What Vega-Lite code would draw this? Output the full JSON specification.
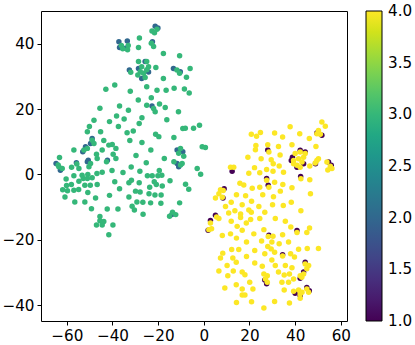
{
"$schema":"https://vega.github.io/schema/vega-lite/v6.json",
"autosize":{"type":"none"},
"padding":{"left":41,"top":11,"right":68,"bottom":24},
"width":306,"height":310,
"config":{"view":{"stroke":"#000","strokeWidth":1},
"axis":{"labelFont":"DejaVu Sans","labelFontSize":15.2,"labelColor":"#000","tickColor":"#000","tickSize":4,"tickWidth":1,"domain":false,"grid":false,"labelPadding":3,"title":null},
"legend":{"labelFont":"DejaVu Sans","labelFontSize":15.2,"labelColor":"#000"}},
"datasets":{"pts":[
{"x":-21.3,"y":45.4,"c":2},{"x":-20.1,"y":44.9,"c":2},{"x":-37.2,"y":40.7,"c":2},{"x":-33.5,"y":40.9,"c":2},{"x":-36.9,"y":38.9,"c":2},{"x":-34.3,"y":38.7,"c":2},{"x":-22.5,"y":40.7,"c":2},{"x":-28.6,"y":32.5,"c":2},{"x":-25.7,"y":34.6,"c":2},{"x":-27.2,"y":29.4,"c":2},{"x":-24.2,"y":31.4,"c":2},{"x":-32.6,"y":32,"c":2},{"x":-13.3,"y":32.5,"c":2},{"x":-10.3,"y":31.5,"c":2},{"x":-22.7,"y":21,"c":2},{"x":-48.9,"y":11,"c":2},{"x":-49.6,"y":9.5,"c":2},{"x":-51.8,"y":8.5,"c":2},{"x":-53,"y":7,"c":2},{"x":-11.7,"y":7.5,"c":2},{"x":-9.2,"y":7,"c":2},{"x":-42.2,"y":4.4,"c":2},{"x":-55.8,"y":3.6,"c":2},{"x":-51,"y":3.9,"c":2},{"x":-50.6,"y":4.4,"c":2},{"x":-64.7,"y":3.4,"c":2},{"x":-62.8,"y":1.3,"c":2},{"x":-11.7,"y":3.4,"c":2},{"x":-11,"y":2.4,"c":2},{"x":-14,"y":-12.3,"c":2},
{"x":12.4,"y":1.0,"c":1},{"x":28,"y":7.5,"c":1},{"x":27.5,"y":-1.2,"c":1},{"x":28.2,"y":-3.3,"c":1},{"x":8.9,"y":-4.4,"c":1},{"x":8.4,"y":-7.2,"c":1},{"x":49.5,"y":12.7,"c":1},{"x":51.7,"y":12,"c":1},{"x":38.8,"y":5.3,"c":1},{"x":42.2,"y":7.4,"c":1},{"x":44.4,"y":6.9,"c":1},{"x":43.7,"y":3.3,"c":1},{"x":38.3,"y":4.3,"c":1},{"x":40.8,"y":2.2,"c":1},{"x":48.9,"y":3.3,"c":1},{"x":54.6,"y":3.8,"c":1},{"x":55.8,"y":2.8,"c":1},{"x":42.4,"y":-0.6,"c":1},{"x":2.9,"y":-14.1,"c":1},{"x":1.9,"y":-17.1,"c":1},{"x":5.1,"y":-12.5,"c":1},{"x":26.7,"y":-32.3,"c":1},{"x":27.5,"y":-33.5,"c":1},{"x":40.8,"y":-17.2,"c":1},{"x":34.5,"y":-24.6,"c":1},{"x":44.4,"y":-26.9,"c":1},{"x":43.7,"y":-29.9,"c":1},{"x":42.2,"y":-31.8,"c":1},{"x":40,"y":-36.4,"c":1},{"x":42.2,"y":-37.1,"c":1},{"x":45.1,"y":-34.6,"c":1},{"x":46.2,"y":-35.6,"c":1},{"x":28.5,"y":-18.6,"c":1},
{"x":-22.7,"y":44,"c":3},{"x":-20.5,"y":44.5,"c":3},{"x":-21.6,"y":43.4,"c":3},{"x":-36.1,"y":39.5,"c":3},{"x":-33.1,"y":39.5,"c":3},{"x":-35.5,"y":38.5,"c":3},{"x":-33.4,"y":38.2,"c":3},{"x":-23,"y":40.2,"c":3},{"x":-22,"y":39.2,"c":3},{"x":-28.2,"y":41.8,"c":3},{"x":-28.6,"y":38.9,"c":3},
{"x":-27.2,"y":33,"c":3},{"x":-28.9,"y":30.5,"c":3},{"x":-26.4,"y":31,"c":3},{"x":-25,"y":32.1,"c":3},{"x":-27.8,"y":31.5,"c":3},{"x":-25.7,"y":29.7,"c":3},{"x":-24.2,"y":33,"c":3},{"x":-28.6,"y":34.6,"c":3},{"x":-25,"y":34.6,"c":3},{"x":-32,"y":31.3,"c":3},
{"x":-17.7,"y":37.1,"c":3},{"x":-10.6,"y":36.4,"c":3},{"x":-21,"y":32.8,"c":3},{"x":-11.8,"y":32,"c":3},{"x":-10.6,"y":31,"c":3},{"x":-6,"y":32.5,"c":3},{"x":-7.6,"y":29.8,"c":3},{"x":-17.7,"y":29.4,"c":3},
{"x":-39,"y":27.4,"c":3},{"x":-42.9,"y":26.1,"c":3},{"x":-25,"y":26.9,"c":3},{"x":-20.5,"y":25.8,"c":3},{"x":-16.5,"y":25.8,"c":3},{"x":-13,"y":26.4,"c":3},{"x":-8.5,"y":26.2,"c":3},{"x":-6.4,"y":25,"c":3},{"x":-32.2,"y":25.5,"c":3},
{"x":-28.7,"y":22.8,"c":3},{"x":-23,"y":23.5,"c":3},{"x":-25,"y":21.2,"c":3},{"x":-22,"y":20.2,"c":3},{"x":-19.4,"y":21.6,"c":3},{"x":-21.3,"y":19.2,"c":3},{"x":-16.9,"y":20.5,"c":3},{"x":-11.1,"y":19.2,"c":3},{"x":-33,"y":19.7,"c":3},{"x":-45.5,"y":20.3,"c":3},{"x":-36.9,"y":21,"c":3},
{"x":-27.1,"y":17.4,"c":3},{"x":-28.3,"y":15.6,"c":3},{"x":-16.2,"y":16.8,"c":3},{"x":-9.2,"y":14.1,"c":3},{"x":-8.1,"y":14.2,"c":3},{"x":-4.5,"y":14.2,"c":3},{"x":-1.9,"y":15.1,"c":3},
{"x":-48.1,"y":16.6,"c":3},{"x":-41.3,"y":16.2,"c":3},{"x":-38.2,"y":17.9,"c":3},{"x":-34.9,"y":17,"c":3},{"x":-50.1,"y":14.7,"c":3},{"x":-37.4,"y":14.7,"c":3},
{"x":-51,"y":13.1,"c":3},{"x":-45.2,"y":13.1,"c":3},{"x":-33.6,"y":12.8,"c":3},{"x":-30.9,"y":13.3,"c":3},{"x":-21.1,"y":12.3,"c":3},{"x":-19.7,"y":11.6,"c":3},{"x":-13.1,"y":11.3,"c":3},
{"x":-48.9,"y":10.5,"c":3},{"x":-48.1,"y":9.5,"c":3},{"x":-43.8,"y":10.4,"c":3},{"x":-41.6,"y":9,"c":3},{"x":-40.1,"y":9.2,"c":3},{"x":-32.4,"y":10.4,"c":3},{"x":-27.1,"y":9.8,"c":3},
{"x":-52.5,"y":7.5,"c":3},{"x":-51,"y":8,"c":3},{"x":-56.9,"y":7.5,"c":3},{"x":-44.5,"y":7.5,"c":3},{"x":-38.5,"y":8,"c":3},{"x":-23.2,"y":7.5,"c":3},{"x":-11,"y":6.5,"c":3},{"x":-10.2,"y":8,"c":3},{"x":-0.7,"y":8.5,"c":3},{"x":0.7,"y":8.3,"c":3},{"x":-8.8,"y":5.6,"c":3},
{"x":-63.2,"y":5.2,"c":3},{"x":-47,"y":6.2,"c":3},{"x":-46.7,"y":4.9,"c":3},{"x":-39.7,"y":6.2,"c":3},{"x":-38.5,"y":4.9,"c":3},{"x":-29.7,"y":5.8,"c":3},{"x":-17.3,"y":4.9,"c":3},
{"x":-42.6,"y":3.9,"c":3},{"x":-55.6,"y":3.2,"c":3},{"x":-49.6,"y":3.4,"c":3},{"x":-50.3,"y":2.4,"c":3},{"x":-63.5,"y":2.4,"c":3},{"x":-62,"y":1.8,"c":3},{"x":-63.8,"y":2.9,"c":3},
{"x":-13.1,"y":3.9,"c":3},{"x":-10.2,"y":2.9,"c":3},{"x":-9.5,"y":3.4,"c":3},{"x":-25.2,"y":3.6,"c":3},{"x":-2.9,"y":1.8,"c":3},{"x":-1.4,"y":0.1,"c":3},
{"x":-57.9,"y":2.2,"c":3},{"x":-54.7,"y":1.8,"c":3},{"x":-53.3,"y":-0.2,"c":3},{"x":-50.8,"y":0,"c":3},{"x":-46.8,"y":0.3,"c":3},{"x":-35.4,"y":0.6,"c":3},{"x":-28,"y":1,"c":3},{"x":-44.5,"y":0.7,"c":3},{"x":-40.2,"y":1.2,"c":3},{"x":-31.8,"y":2.3,"c":3},{"x":-19.5,"y":1.2,"c":3},
{"x":-22.6,"y":-0.4,"c":3},{"x":-20.1,"y":-0.4,"c":3},{"x":-18.4,"y":-0.2,"c":3},{"x":-24.7,"y":-0.4,"c":3},{"x":-14.8,"y":-1.9,"c":3},
{"x":-60.3,"y":-1.4,"c":3},{"x":-56.9,"y":-0.4,"c":3},{"x":-54.7,"y":-2.1,"c":3},{"x":-52.8,"y":-1.2,"c":3},{"x":-51,"y":-1.2,"c":3},{"x":-48.9,"y":-1,"c":3},
{"x":-39,"y":-2.2,"c":3},{"x":-32.8,"y":-2.5,"c":3},{"x":-31.7,"y":-1.8,"c":3},{"x":-28.3,"y":-2.5,"c":3},{"x":-21.7,"y":-2.2,"c":3},{"x":-18.2,"y":-3.5,"c":3},{"x":-20.8,"y":-3.1,"c":3},{"x":-8,"y":-3,"c":3},{"x":-6.6,"y":-4.5,"c":3},{"x":-23.7,"y":-3.9,"c":3},{"x":-36.9,"y":-4.4,"c":3},
{"x":-61.8,"y":-4.7,"c":3},{"x":-59.7,"y":-5,"c":3},{"x":-58,"y":-3.1,"c":3},{"x":-60.1,"y":-3.4,"c":3},{"x":-56.9,"y":-4.8,"c":3},{"x":-54.8,"y":-4.6,"c":3},{"x":-52.1,"y":-3.3,"c":3},{"x":-49.7,"y":-3.3,"c":3},{"x":-46.7,"y":-3.1,"c":3},{"x":-50.8,"y":-5.5,"c":3},
{"x":-60.8,"y":-6.9,"c":3},{"x":-56.5,"y":-8.4,"c":3},{"x":-52.1,"y":-8.4,"c":3},{"x":-47.4,"y":-7.2,"c":3},{"x":-49.2,"y":-10.5,"c":3},{"x":-41.3,"y":-6.4,"c":3},{"x":-42.3,"y":-10.6,"c":3},{"x":-37.6,"y":-10.6,"c":3},
{"x":-32.8,"y":-6.9,"c":3},{"x":-29.9,"y":-5.1,"c":3},{"x":-27.9,"y":-5.4,"c":3},{"x":-24,"y":-5.9,"c":3},{"x":-21.4,"y":-6.3,"c":3},{"x":-18.7,"y":-6.3,"c":3},
{"x":-29.3,"y":-8.4,"c":3},{"x":-26.7,"y":-8.5,"c":3},{"x":-23.3,"y":-8.7,"c":3},{"x":-18.8,"y":-8.8,"c":3},{"x":-31.4,"y":-9.7,"c":3},{"x":-30.4,"y":-10.9,"c":3},{"x":-26.6,"y":-12.2,"c":3},{"x":-10.6,"y":-8.7,"c":3},
{"x":-15,"y":-12.8,"c":3},{"x":-13.7,"y":-11.6,"c":3},{"x":-12.3,"y":-12.3,"c":3},
{"x":-45.5,"y":-12.9,"c":3},{"x":-43.8,"y":-14.4,"c":3},{"x":-45.5,"y":-14.2,"c":3},{"x":-47,"y":-15.5,"c":3},{"x":-44.5,"y":-15.5,"c":3},{"x":-39.8,"y":-15.5,"c":3},{"x":-41.6,"y":-18.5,"c":3},
{"x":20.8,"y":12.3,"c":4},{"x":23.1,"y":11.7,"c":4},{"x":24.8,"y":12.9,"c":4},{"x":22.8,"y":8.9,"c":4},{"x":22.6,"y":7.6,"c":4},{"x":28,"y":9.1,"c":4},{"x":28.5,"y":6.9,"c":4},{"x":19.3,"y":5.3,"c":4},{"x":25.1,"y":4.8,"c":4},{"x":11.7,"y":2.2,"c":4},{"x":13.1,"y":2.2,"c":4},{"x":19.7,"y":0.4,"c":4},{"x":22.2,"y":2.1,"c":4},{"x":24.5,"y":0.5,"c":4},{"x":27.5,"y":1.5,"c":4},{"x":27.5,"y":-1.8,"c":4},{"x":28.5,"y":-3.9,"c":4},{"x":15.8,"y":-2.7,"c":4},{"x":17.5,"y":-3.2,"c":4},{"x":21.2,"y":-4.2,"c":4},{"x":24.5,"y":-3.9,"c":4},
{"x":7.3,"y":-4.7,"c":4},{"x":8.5,"y":-4.9,"c":4},{"x":6.6,"y":-5.9,"c":4},{"x":8.1,"y":-7,"c":4},{"x":5.1,"y":-7.2,"c":4},
{"x":14.3,"y":-6.2,"c":4},{"x":18.3,"y":-6.5,"c":4},{"x":25.8,"y":-6.2,"c":4},{"x":12,"y":-8.5,"c":4},{"x":20.9,"y":-8.2,"c":4},{"x":9.5,"y":-9.8,"c":4},{"x":16.8,"y":-9.3,"c":4},{"x":24.1,"y":-9.8,"c":4},{"x":13.6,"y":-11.1,"c":4},{"x":19.7,"y":-10.9,"c":4},{"x":20.8,"y":-11.6,"c":4},{"x":26.7,"y":-11.6,"c":4},{"x":10.9,"y":-11.8,"c":4},{"x":16.1,"y":-12.1,"c":4},
{"x":37.8,"y":14.6,"c":4},{"x":31,"y":12.7,"c":4},{"x":34.5,"y":11.5,"c":4},{"x":42,"y":12.5,"c":4},{"x":46.2,"y":11,"c":4},
{"x":51.7,"y":16.1,"c":4},{"x":53.2,"y":14.8,"c":4},{"x":50.2,"y":13.5,"c":4},{"x":51,"y":12.3,"c":4},{"x":49.5,"y":12.5,"c":4},
{"x":38.6,"y":9.1,"c":4},{"x":49.1,"y":8.6,"c":4},{"x":32.7,"y":8.6,"c":4},{"x":33.4,"y":6,"c":4},{"x":29.5,"y":4.5,"c":4},
{"x":40,"y":6.4,"c":4},{"x":42.2,"y":6.9,"c":4},{"x":39.3,"y":4.3,"c":4},{"x":41.5,"y":4.8,"c":4},{"x":43,"y":3.8,"c":4},{"x":40.8,"y":2.8,"c":4},{"x":43.7,"y":5.3,"c":4},{"x":42.2,"y":2.2,"c":4},{"x":39.3,"y":3.3,"c":4},{"x":44.4,"y":6.4,"c":4},
{"x":49.5,"y":4.3,"c":4},{"x":48.8,"y":3.5,"c":4},{"x":50.2,"y":4.8,"c":4},
{"x":53.9,"y":3.8,"c":4},{"x":55.4,"y":2.5,"c":4},{"x":56.1,"y":1.8,"c":4},{"x":54.3,"y":1.4,"c":4},
{"x":46.4,"y":2.6,"c":4},{"x":30.4,"y":3.3,"c":4},{"x":33,"y":2.6,"c":4},{"x":34.9,"y":0.7,"c":4},{"x":30.3,"y":1,"c":4},{"x":42.5,"y":-1.3,"c":4},{"x":46.4,"y":-1.6,"c":4},{"x":31,"y":-2.4,"c":4},{"x":34.6,"y":-3.1,"c":4},{"x":38.6,"y":-4.1,"c":4},{"x":46.7,"y":-5.9,"c":4},{"x":33.5,"y":-5.1,"c":4},{"x":30.5,"y":-6.8,"c":4},{"x":38.3,"y":-8.5,"c":4},{"x":34.8,"y":-9.5,"c":4},{"x":30.1,"y":-9.3,"c":4},{"x":42.5,"y":-11.1,"c":4},
{"x":5.6,"y":-13,"c":4},{"x":2.9,"y":-14.9,"c":4},{"x":2.2,"y":-16.9,"c":4},{"x":3.4,"y":-16.6,"c":4},{"x":6.6,"y":-13.5,"c":4},
{"x":16.1,"y":-13.2,"c":4},{"x":20.5,"y":-13.8,"c":4},{"x":24.5,"y":-13.5,"c":4},{"x":12,"y":-14.3,"c":4},{"x":18.6,"y":-14.9,"c":4},{"x":14.6,"y":-15.9,"c":4},{"x":16.8,"y":-17.1,"c":4},{"x":26.3,"y":-16.9,"c":4},{"x":8.1,"y":-18.7,"c":4},{"x":11.7,"y":-18.2,"c":4},{"x":14.3,"y":-19.5,"c":4},{"x":21.9,"y":-18.2,"c":4},{"x":18.7,"y":-20.7,"c":4},{"x":25.3,"y":-20.4,"c":4},{"x":28.2,"y":-19,"c":4},{"x":12.2,"y":-23,"c":4},{"x":15.3,"y":-23,"c":4},{"x":22.3,"y":-23.3,"c":4},{"x":28,"y":-22.1,"c":4},{"x":8.3,"y":-24.1,"c":4},{"x":26.7,"y":-24.3,"c":4},{"x":7.3,"y":-25.6,"c":4},{"x":12.7,"y":-25.6,"c":4},{"x":18.7,"y":-25.1,"c":4},{"x":14.2,"y":-26.9,"c":4},{"x":10.2,"y":-27.9,"c":4},{"x":22.3,"y":-27.1,"c":4},{"x":25.6,"y":-28.1,"c":4},{"x":6.6,"y":-29.6,"c":4},{"x":12.9,"y":-29.6,"c":4},{"x":16.8,"y":-29.9,"c":4},{"x":18,"y":-30.7,"c":4},{"x":10.5,"y":-31,"c":4},
{"x":26.3,"y":-30.5,"c":4},{"x":27.8,"y":-31,"c":4},{"x":27,"y":-32,"c":4},{"x":27.8,"y":-33,"c":4},
{"x":9.2,"y":-34.8,"c":4},{"x":14.2,"y":-33.8,"c":4},{"x":20.1,"y":-33,"c":4},{"x":16.8,"y":-35.1,"c":4},{"x":21.5,"y":-35.1,"c":4},{"x":16.8,"y":-36.9,"c":4},{"x":18,"y":-36.9,"c":4},{"x":14.3,"y":-39.2,"c":4},{"x":20.9,"y":-39,"c":4},{"x":26.3,"y":-40.9,"c":4},
{"x":31.3,"y":-13.5,"c":4},{"x":35.7,"y":-14.3,"c":4},{"x":38.1,"y":-16.1,"c":4},{"x":40.8,"y":-17.8,"c":4},{"x":46.3,"y":-16.4,"c":4},{"x":45.1,"y":-17.8,"c":4},{"x":30.3,"y":-18.9,"c":4},{"x":34.5,"y":-18.5,"c":4},{"x":29.8,"y":-20.7,"c":4},{"x":33,"y":-21.2,"c":4},{"x":37.1,"y":-20.7,"c":4},{"x":41.5,"y":-22.9,"c":4},{"x":45.3,"y":-22.7,"c":4},{"x":50.2,"y":-22.7,"c":4},{"x":29.5,"y":-22.8,"c":4},{"x":31,"y":-23.8,"c":4},{"x":38,"y":-24.3,"c":4},{"x":39.7,"y":-25.3,"c":4},{"x":34.5,"y":-25,"c":4},{"x":29.8,"y":-26.2,"c":4},{"x":31.3,"y":-27.9,"c":4},{"x":35.7,"y":-27.9,"c":4},{"x":38.6,"y":-28.6,"c":4},{"x":32.7,"y":-29.9,"c":4},{"x":35.2,"y":-30.8,"c":4},{"x":37.5,"y":-30.5,"c":4},
{"x":44.4,"y":-27.4,"c":4},{"x":45.9,"y":-27.9,"c":4},{"x":45.1,"y":-28.9,"c":4},{"x":43.7,"y":-30.5,"c":4},{"x":42.9,"y":-31.5,"c":4},{"x":42.2,"y":-31,"c":4},
{"x":34.2,"y":-33,"c":4},{"x":37.1,"y":-33,"c":4},{"x":39.3,"y":-32,"c":4},{"x":35.2,"y":-35.4,"c":4},
{"x":39.3,"y":-35.8,"c":4},{"x":41.5,"y":-35.4,"c":4},{"x":42.2,"y":-36.6,"c":4},{"x":43,"y":-36.1,"c":4},{"x":45.1,"y":-35.1,"c":4},{"x":45.9,"y":-36.1,"c":4},{"x":42.2,"y":-37.9,"c":4},
{"x":31,"y":-38.9,"c":4},{"x":37.5,"y":-39.4,"c":4}
]},
"data":{"name":"pts"},
"mark":{"type":"circle","size":30,"opacity":1},
"encoding":{
"x":{"field":"x","type":"quantitative","scale":{"domain":[-71.3,62.7],"nice":false,"zero":false},"axis":{"values":[-60,-40,-20,0,20,40,60]}},
"y":{"field":"y","type":"quantitative","scale":{"domain":[-44.9,50.1],"nice":false,"zero":false},"axis":{"values":[-40,-20,0,20,40]}},
"color":{"field":"c","type":"quantitative","scale":{"scheme":"viridis","domain":[0.996,4.004]},
"legend":{"title":null,"orient":"right","offset":19,"padding":0,"gradientLength":310,"gradientThickness":16,"gradientStrokeColor":"#000","gradientStrokeWidth":1,"values":[1,1.5,2,2.5,3,3.5,4],"format":".1f","labelOffset":6}}
}
}
